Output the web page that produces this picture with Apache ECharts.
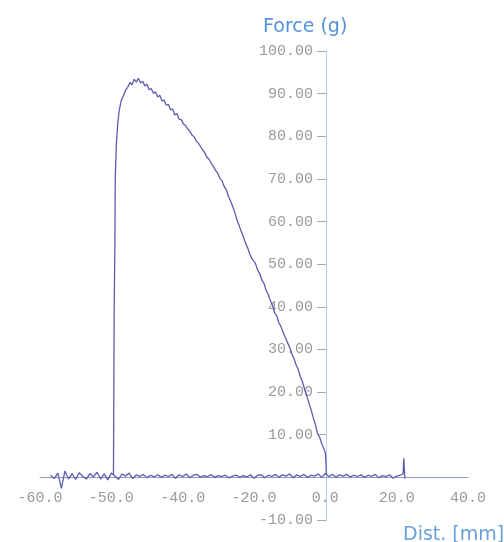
<!DOCTYPE html>
<html>
<head>
<meta charset="utf-8">
<script src="https://cdn.jsdelivr.net/npm/echarts@6/dist/echarts.min.js"></script>
<style>
html,body{margin:0;padding:0;background:#fff;}
#chart{width:504px;height:542px;}
</style>
</head>
<body>
<div id="chart"></div>
<script>
// X tick values (axis units) and the labels printed under them
var xTickValues = [-80, -60, -40, -20, 0, 20, 40];
var xTickLabels = ['-60.0', '-50.0', '-40.0', '-20.0', '0.0', '20.0', '40.0'];
// Y tick values and labels
var yTickValues = [-10, 0, 10, 20, 30, 40, 50, 60, 70, 80, 90, 100];
var yTickLabels = ['-10.00', '', '10.00', '20.00', '30.00', '40.00', '50.00', '60.00', '70.00', '80.00', '90.00', '100.00'];

// Baseline trace (distance, force)
var baseX = [-77,-76,-75,-74,-73,-72,-71,-70,-69,-68,-67,-66,-65,-64,-63,-62,-61,-60,-59,-58,
  -57,-56,-55,-54,-53,-52,-51,-50,-49,-48,-47,-46,-45,-44,-43,-42,-41,-40,-39,-38,
  -37,-36,-35,-34,-33,-32,-31,-30,-29,-28,-27,-26,-25,-24,-23,-22,-21,-20,-19,-18,
  -17,-16,-15,-14,-13,-12,-11,-10,-9,-8,-7,-6,-5,-4,-3,-2,-1,0,1,2,
  3,4,5,6,7,8,9,10,11,12,13,14,15,16,17,18,19,20,21,21.8,22.0,22.3];
var baseY = [0.5,-0.3,1.0,-2.6,1.5,-0.4,0.9,-0.5,1.1,0.2,-0.4,0.9,0.1,1.2,-0.4,0.8,-0.6,1.0,0.3,-0.5,
  0.8,0.3,1.0,-0.3,0.6,0.2,0.7,-0.1,0.5,0.1,0.6,0.0,0.5,0.2,0.7,-0.2,0.6,0.2,0.8,-0.1,
  0.5,0.7,0.0,0.4,0.2,0.6,0.0,0.4,0.2,0.5,-0.1,0.3,0.5,0.0,0.4,0.1,0.6,-0.2,0.5,0.6,
  -0.1,0.5,0.2,0.7,0.0,0.6,0.3,0.8,-0.1,0.6,0.2,0.7,0.0,0.5,0.3,0.8,0.0,0.9,0.2,0.7,
  0.0,0.6,0.3,0.7,0.1,0.5,0.2,0.6,0.0,0.5,0.2,0.7,-0.1,0.4,0.2,0.6,-0.2,0.3,0.5,0.8,4.5,-0.3];

// Force curve (distance, force)
var curveX = [-59.4,-59.3,-59.2,-59.0,-58.9,-58.6,-58.2,-57.8,-57.2,-56.6,-56.0,-55.4,-54.8,-54.2,-53.6,-53.0,-52.4,-51.8,-51.2,-50.6,
  -50.0,-49.4,-48.8,-48.2,-47.6,-47.0,-46.4,-45.8,-45.2,-44.6,-44.0,-43.4,-42.8,-42.2,-41.6,-41.0,-40.4,-39.8,-39.2,-38.6,
  -38.0,-37.4,-36.8,-36.2,-35.6,-35.0,-34.4,-33.8,-33.2,-32.6,-32.0,-31.4,-30.8,-30.2,-29.6,-29.0,-28.4,-27.8,-27.2,-26.6,
  -26.0,-25.4,-24.8,-24.2,-23.6,-23.0,-22.4,-21.8,-21.2,-20.6,-19.6,-19.0,-18.4,-17.8,-17.2,-16.6,-16.0,-15.4,-14.8,-14.2,
  -13.6,-13.0,-12.4,-11.8,-11.2,-10.6,-10.0,-9.4,-8.8,-8.2,-7.6,-7.0,-6.4,-5.8,-5.2,-4.6,-4.0,-3.4,-2.8,-2.2,
  -1.6,-1.0,-0.5,0.0,0.2,0.3];
var curveY = [0.5,20,40,55,70,78,83,86,88.5,89.5,90.8,91.5,92.6,92.1,93.4,92.7,93.6,92.5,92.9,91.8,
  92.2,90.9,91.2,90.1,90.4,89.2,89.6,88.3,88.5,87.3,87.5,86.2,86.4,85.0,85.3,84.0,83.9,82.9,82.5,81.7,
  81.2,80.3,79.9,78.9,78.4,77.6,76.8,76.1,75.1,74.6,73.6,73.0,72.0,71.4,70.2,69.6,68.3,67.5,66.0,64.9,
  63.6,62.2,60.4,59.2,57.7,56.5,55.0,53.9,52.4,51.3,50.2,48.6,47.8,46.3,45.5,43.9,42.9,41.4,40.3,38.6,
  37.8,36.2,35.3,33.9,32.8,31.6,30.5,29.0,27.9,26.4,25.3,23.6,22.4,20.6,19.1,17.4,15.9,14.0,12.4,10.3,
  9.4,7.9,6.9,5.8,3.0,0.6];

function pairs(xs, ys) { return xs.map(function (x, i) { return [x, ys[i]]; }); }

var chart = echarts.init(document.getElementById('chart'), null, { renderer: 'canvas' });
var monoFont = '"Liberation Mono", "DejaVu Sans Mono", monospace';

chart.setOption({
  animation: false,
  backgroundColor: '#ffffff',
  title: [
    { text: 'Force (g)', left: 258, top: 13,
      textStyle: { fontFamily: '"DejaVu Sans", sans-serif', fontSize: 19, fontWeight: 'normal', color: '#5590dc' } },
    { text: 'Dist. [mm]', left: 398, top: 521,
      textStyle: { fontFamily: '"DejaVu Sans", sans-serif', fontSize: 19, fontWeight: 'normal', color: '#6a9edc' } }
  ],
  grid: { left: 40, right: 36, top: 51, bottom: 22, containLabel: false, outerBoundsMode: 'none' },
  xAxis: {
    type: 'value', min: -80, max: 40, interval: 20,
    position: 'bottom', offset: -43,
    axisLine: { onZero: false, lineStyle: { color: '#8f9cc6', width: 1 } },
    axisTick: { show: false },
    splitLine: { show: false },
    axisLabel: {
      margin: 14, color: '#9a9a9a', fontFamily: monoFont, fontSize: 15,
      showMinLabel: true, showMaxLabel: true,
      formatter: function (v) { var i = xTickValues.indexOf(v); return i >= 0 ? xTickLabels[i] : ''; }
    }
  },
  yAxis: {
    type: 'value', min: -10, max: 100, interval: 10,
    position: 'left', offset: -286,
    axisLine: { onZero: false, lineStyle: { color: '#b4d0ee', width: 1 } },
    axisTick: { show: true, length: 9, lineStyle: { color: '#a8a8a8' } },
    splitLine: { show: false },
    axisLabel: {
      margin: 13, color: '#9a9a9a', fontFamily: monoFont, fontSize: 15,
      showMinLabel: true, showMaxLabel: true,
      formatter: function (v) { var i = yTickValues.indexOf(Math.round(v)); return i >= 0 ? yTickLabels[i] : ''; }
    }
  },
  series: [
    { type: 'line', data: pairs(baseX, baseY), showSymbol: false, symbol: 'none',
      lineStyle: { color: '#5c5cb0', width: 1.3 }, z: 3 },
    { type: 'line', data: pairs(curveX, curveY), showSymbol: false, symbol: 'none',
      lineStyle: { color: '#5c5cb0', width: 1.3 }, z: 3 }
  ]
});
</script>
</body>
</html>
